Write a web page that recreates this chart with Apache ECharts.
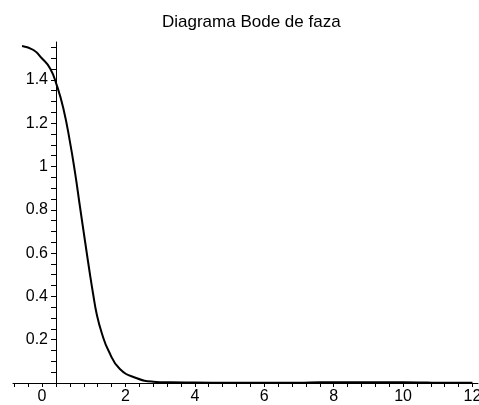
<!DOCTYPE html>
<html>
<head>
<meta charset="utf-8">
<script src="https://cdn.jsdelivr.net/npm/echarts@6/dist/echarts.min.js"></script>
<style>
html,body{margin:0;padding:0;background:#fff;}
#chart{width:479px;height:405px;}
</style>
</head>
<body>
<div id="chart"></div>
<script>
var titleText = 'Diagrama Bode de faza';
var xValues = [-0.98, -0.65, -0.41, -0.17, 0.02, 0.21, 0.40, 0.55, 0.69, 0.84, 0.98, 1.07, 1.17, 1.32, 1.51, 1.84, 2.33, 2.8, 3.3, 4, 5, 6, 7, 7.6, 8, 9, 10, 10.7, 11, 12];
var yValues = [1.557, 1.538, 1.50, 1.453, 1.376, 1.269, 1.115, 0.969, 0.814, 0.65, 0.50, 0.41, 0.32, 0.23, 0.15, 0.065, 0.022, 0.006, 0.003, 0.002, 0.001, 0.001, 0.001, 0.003, 0.003, 0.003, 0.003, 0.002, 0.001, 0.001];
var xTickLabels = [0, 2, 4, 6, 8, 10, 12];
var xTicks = [-1.2, -0.8, -0.4, 0, 0.4, 0.8, 1.2, 1.6, 2, 2.4, 2.8, 3.2, 3.6, 4, 4.4, 4.8, 5.2, 5.6, 6, 6.4, 6.8, 7.2, 7.6, 8, 8.4, 8.8, 9.2, 9.6, 10, 10.4, 10.8, 11.2, 11.6, 12];
var yTickLabels = [0.2, 0.4, 0.6, 0.8, 1, 1.2, 1.4];
var yTicks = [0.05, 0.1, 0.15, 0.2, 0.25, 0.3, 0.35, 0.4, 0.45, 0.5, 0.55, 0.6, 0.65, 0.7, 0.75, 0.8, 0.85, 0.9, 0.95, 1, 1.05, 1.1, 1.15, 1.2, 1.25, 1.3, 1.35, 1.4, 1.45, 1.5, 1.55];

var data = xValues.map(function (x, i) { return [x, yValues[i]]; });
var font = 'Liberation Sans, Arial, sans-serif';
var chart = echarts.init(document.getElementById('chart'), null, {renderer: 'canvas'});
chart.setOption({
  animation: false,
  backgroundColor: '#fff',
  title: {
    text: titleText,
    left: 157,
    top: 9,
    textStyle: {fontFamily: font, fontSize: 17, fontWeight: 'normal', color: '#000'}
  },
  grid: {left: 13, right: 1, top: 42, bottom: 22, containLabel: false, outerBoundsMode: 'none'},
  xAxis: {
    type: 'value',
    min: -1.24,
    max: 12.16,
    axisLine: {show: true, lineStyle: {color: '#000', width: 1}},
    axisTick: {show: true, customValues: xTicks, length: 4, lineStyle: {color: '#000'}},
    axisLabel: {
      customValues: xTickLabels,
      margin: 6,
      color: '#000',
      fontFamily: font,
      fontSize: 16,
      formatter: function (v) { return v === 0 ? '{z|0}' : String(v); },
      rich: {z: {padding: [0, 28, 0, 0], fontFamily: font, fontSize: 16, color: '#000'}}
    },
    splitLine: {show: false}
  },
  yAxis: {
    type: 'value',
    min: 0,
    max: 1.575,
    offset: -43,
    axisLine: {show: true, onZero: false, lineStyle: {color: '#000', width: 1}},
    axisTick: {show: true, customValues: yTicks, length: 5, lineStyle: {color: '#000'}},
    axisLabel: {customValues: yTickLabels, margin: 8, color: '#000', fontFamily: font, fontSize: 16},
    splitLine: {show: false}
  },
  series: [{
    type: 'line',
    data: data,
    showSymbol: false,
    smooth: true,
    lineStyle: {color: '#000', width: 2}
  }]
});
</script>
</body>
</html>
